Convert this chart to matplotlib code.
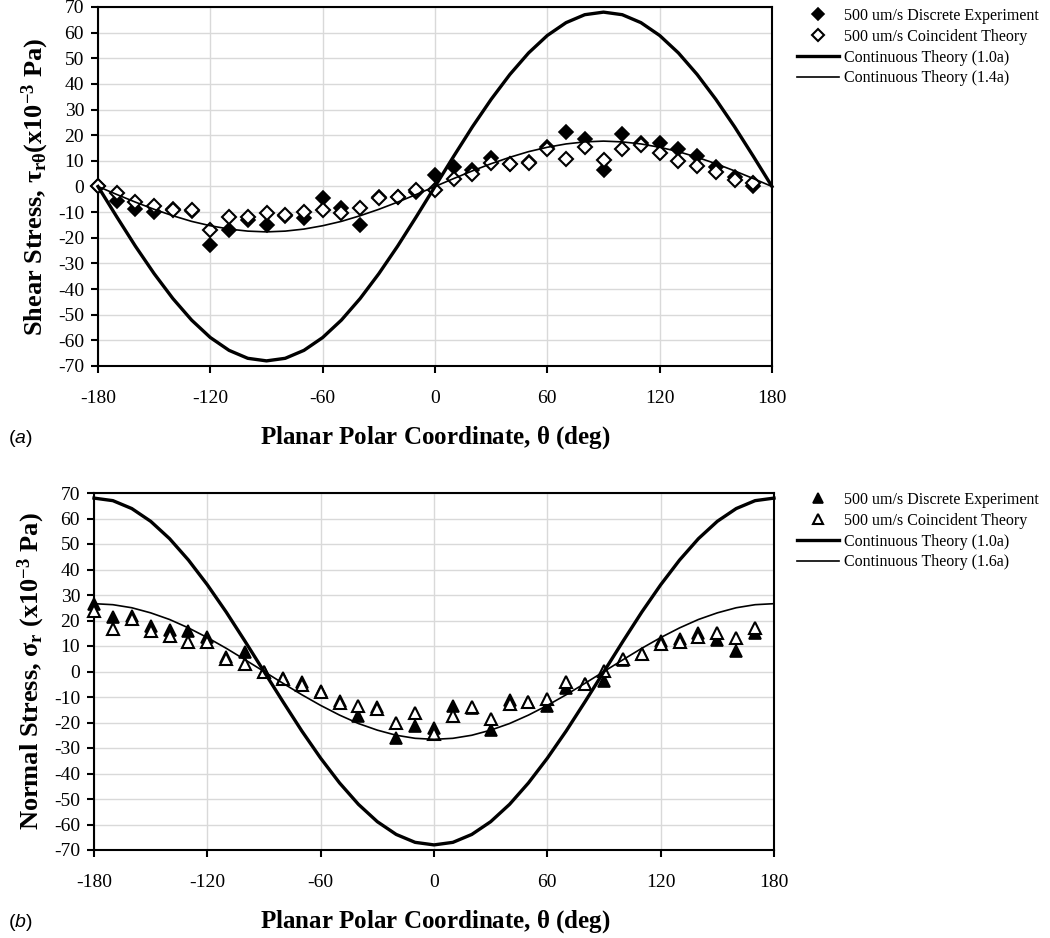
import matplotlib
matplotlib.use("Agg")
import matplotlib.pyplot as plt

plt.rcParams['font.family'] = ['Liberation Serif', 'DejaVu Serif']
plt.rcParams['mathtext.fontset'] = 'custom'
plt.rcParams['mathtext.rm'] = 'Liberation Serif:bold'
plt.rcParams['mathtext.it'] = 'Liberation Serif:bold'
plt.rcParams['mathtext.bf'] = 'Liberation Serif:bold'
plt.rcParams['mathtext.sf'] = 'Liberation Sans:italic'
plt.rcParams['axes.unicode_minus'] = False

# ---------------- data ----------------
theta_pts = [-180, -170, -160, -150, -140, -130, -120, -110, -100, -90, -80, -70,
             -60, -50, -40, -30, -20, -10, 0, 10, 20, 30, 40, 50, 60, 70, 80, 90,
             100, 110, 120, 130, 140, 150, 160, 170]
theta_curve = theta_pts + [180]

# panel (a) shear stress
shear_discrete = [0, -5.5, -8.6, -10.1, -8.6, -9.7, -22.9, -17.1, -13.2, -15, -11.4, -12.4,
                  -4.6, -8.4, -15, -3.9, -4.2, -2.2, 4.3, 7.6, 6.6, 11.2, 8.6, 9.6,
                  15.5, 21.3, 18.7, 6.6, 20.4, 16.8, 17.1, 14.7, 11.8, 7.5, 3.7, 0]
shear_coincident = [0, -2.5, -6.2, -7.5, -9, -9.1, -17.1, -11.8, -11.8, -10.3, -11, -10,
                    -9.1, -10.5, -8.2, -4.5, -4, -1.2, -1.4, 2.9, 5, 9.2, 8.8, 9.2,
                    14.5, 10.8, 15.5, 10.5, 14.7, 16, 12.9, 10.1, 7.9, 5.5, 2.4, 1.5]
shear_cont_10 = [0, -11.8, -23.3, -34.0, -43.7, -52.1, -58.9, -63.9, -67.0, -68.0,
                 -67.0, -63.9, -58.9, -52.1, -43.7, -34.0, -23.3, -11.8, 0,
                 11.8, 23.3, 34.0, 43.7, 52.1, 58.9, 63.9, 67.0, 68.0,
                 67.0, 63.9, 58.9, 52.1, 43.7, 34.0, 23.3, 11.8, 0]
shear_cont_14 = [0, -3.1, -6.1, -8.9, -11.4, -13.6, -15.3, -16.6, -17.4, -17.7,
                 -17.4, -16.6, -15.3, -13.6, -11.4, -8.9, -6.1, -3.1, 0,
                 3.1, 6.1, 8.9, 11.4, 13.6, 15.3, 16.6, 17.4, 17.7,
                 17.4, 16.6, 15.3, 13.6, 11.4, 8.9, 6.1, 3.1, 0]

# panel (b) normal stress
normal_discrete = [26.4, 21.2, 21.8, 17.9, 16.2, 15.9, 13.7, 5.5, 7.7, 0, -2.4, -4.3,
                   -7.6, -11.5, -17.4, -14.1, -25.9, -21.3, -22, -13.6, -14.2, -23, -11.2, -11.8,
                   -13.6, -6.3, -5, -3.7, 4.6, 6.8, 12.1, 12.8, 15, 12.5, 8.2, 15]
normal_coincident = [23.8, 16.6, 20.5, 15.9, 14, 11.4, 11.4, 5, 2.9, 0, -3, -5.4,
                     -8, -12.4, -13.5, -14.8, -20.3, -16.3, -24.6, -17.5, -14, -18.6, -12.9, -12,
                     -10.7, -4.1, -5, 0.3, 5, 7, 10.8, 11.4, 13.5, 15, 13, 17]
normal_cont_10 = [68, 67.0, 63.9, 58.9, 52.1, 43.7, 34.0, 23.3, 11.8, 0,
                  -11.8, -23.3, -34.0, -43.7, -52.1, -58.9, -63.9, -67.0, -68,
                  -67.0, -63.9, -58.9, -52.1, -43.7, -34.0, -23.3, -11.8, 0,
                  11.8, 23.3, 34.0, 43.7, 52.1, 58.9, 63.9, 67.0, 68]
normal_cont_16 = [26.6, 26.2, 25.0, 23.0, 20.4, 17.1, 13.3, 9.1, 4.6, 0,
                  -4.6, -9.1, -13.3, -17.1, -20.4, -23.0, -25.0, -26.2, -26.6,
                  -26.2, -25.0, -23.0, -20.4, -17.1, -13.3, -9.1, -4.6, 0,
                  4.6, 9.1, 13.3, 17.1, 20.4, 23.0, 25.0, 26.2, 26.6]

x_ticks = [-180, -120, -60, 0, 60, 120, 180]
y_ticks = list(range(-70, 71, 10))

labels_a = ['500 um/s Discrete Experiment', '500 um/s Coincident Theory',
            'Continuous Theory (1.0a)', 'Continuous Theory (1.4a)']
labels_b = ['500 um/s Discrete Experiment', '500 um/s Coincident Theory',
            'Continuous Theory (1.0a)', 'Continuous Theory (1.6a)']

# ---------------- figure ----------------
W, H = 1050, 938
fig = plt.figure(figsize=(W / 100, H / 100), dpi=100)


def fx(px):
    return px / W


def fy(py):
    return 1 - py / H


def style_axes(ax):
    ax.set_xlim(-180, 180)
    ax.set_ylim(-70, 70)
    ax.set_xticks(x_ticks)
    ax.set_yticks(y_ticks)
    ax.grid(True, color='#d9d9d9', linewidth=1.0)
    ax.set_axisbelow(True)
    for s in ax.spines.values():
        s.set_linewidth(1.5)
        s.set_color('black')
    ax.tick_params(direction='out', length=5, width=1.5, labelsize=14, pad=5)
    ax.tick_params(axis='x', pad=12)


def draw_panel(ax, disc, coin, c10, cthin, marker, ms, labels, ylabel,
               legend_top, tag, tag_y, title_y):
    style_axes(ax)
    h1, = ax.plot(theta_pts, disc, linestyle='none', marker=marker, ms=ms,
                  mfc='black', mec='black', mew=1.2, clip_on=False, zorder=3)
    h2, = ax.plot(theta_pts, coin, linestyle='none', marker=marker, ms=ms,
                  mfc='white', mec='black', mew=1.5, clip_on=False, zorder=3)
    h3, = ax.plot(theta_curve, c10, color='black', lw=2.4, zorder=4, clip_on=False)
    h4, = ax.plot(theta_curve, cthin, color='black', lw=1.2, zorder=4, clip_on=False)
    ax.set_ylabel(ylabel, fontsize=19, fontweight='bold', labelpad=5)
    fig.legend([h1, h2, h3, h4], labels, loc='upper left',
               bbox_to_anchor=(fx(797), fy(legend_top)), frameon=False,
               fontsize=11.5, handlelength=2.6, handletextpad=0.35,
               labelspacing=0.3, borderaxespad=0, borderpad=0,
               markerscale=0.85)
    fig.text(fx(435), fy(title_y), r'Planar Polar Coordinate, $\theta$ (deg)',
             fontsize=18, fontweight='bold', ha='center', va='center')
    fig.text(fx(8), fy(tag_y), '(' + r'$\mathsf{' + tag + '}$' + ')',
             fontsize=14, family='Liberation Sans', va='center')


ax1 = fig.add_axes([fx(98), fy(366), fx(772 - 98), (366 - 7) / H])
ax2 = fig.add_axes([fx(94), fy(850), fx(774 - 94), (850 - 493) / H])

draw_panel(ax1, shear_discrete, shear_coincident, shear_cont_10, shear_cont_14,
           'D', 7, labels_a,
           r'Shear Stress, $\tau_{\mathrm{r}\theta}$(x10$^{\mathrm{-3}}$ Pa)',
           8, 'a', 438, 438)
draw_panel(ax2, normal_discrete, normal_coincident, normal_cont_10, normal_cont_16,
           '^', 9, labels_b,
           r'Normal Stress, $\sigma_{\mathrm{r}}$ (x10$^{\mathrm{-3}}$ Pa)',
           492, 'b', 922, 922)

fig.savefig('out.png', dpi=100)
